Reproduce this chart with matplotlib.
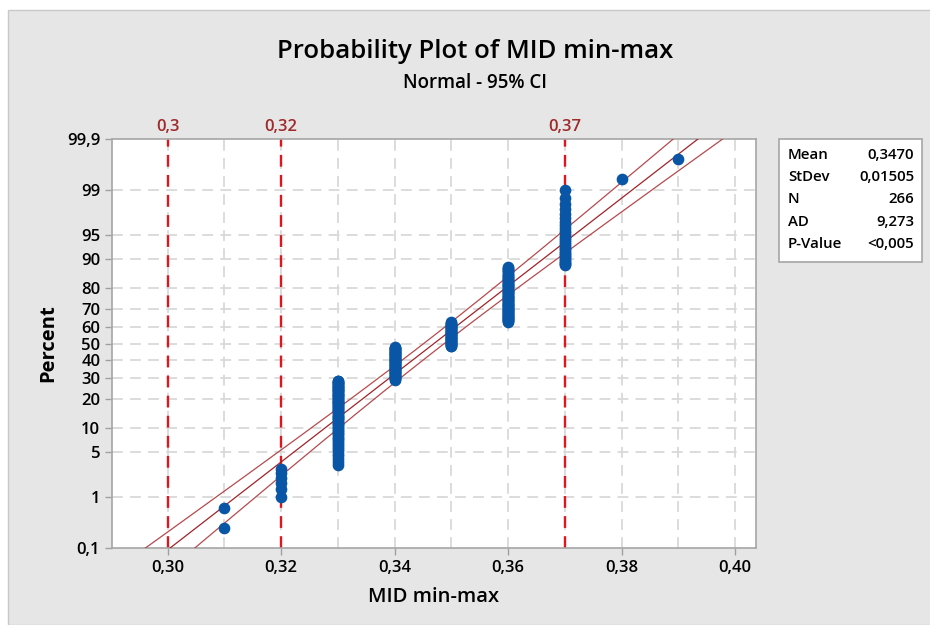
"""
Normal probability plot of MID min-max (Minitab style), 95% CI bands.
"""

from statistics import NormalDist
import numpy as np
import matplotlib
matplotlib.use("Agg")
import matplotlib.pyplot as plt
from matplotlib.patches import Rectangle

values = [0.31, 0.32, 0.33, 0.34, 0.35, 0.36, 0.37, 0.38, 0.39]
counts = [2, 6, 69, 51, 39, 67, 30, 1, 1]

pct_ticks = [0.1, 1, 5, 10, 20, 30, 40, 50, 60, 70, 80, 90, 95, 99, 99.9]
pct_labels = ['0,1', '1', '5', '10', '20', '30', '40', '50', '60', '70',
              '80', '90', '95', '99', '99,9']
x_ticks = [0.30, 0.32, 0.34, 0.36, 0.38, 0.40]
ref_lines = [0.30, 0.32, 0.37]
ref_labels = ['0,3', '0,32', '0,37']
ad_value = '9,273'
p_value = '<0,005'

nd = NormalDist()
FONT = 'Open Sans'
plt.rcParams['font.family'] = [FONT, 'DejaVu Sans']


def comma(s):
    return s.replace('.', ',')


if (__name__ == "__main__"):

    data = np.repeat(values, counts)
    n = len(data)
    mean = data.mean()
    sd = data.std(ddof=1)

    # median ranks like Minitab
    ranks = np.arange(1, n + 1)
    probs = (ranks - 0.3) / (n + 0.4)
    z_pts = np.array([nd.inv_cdf(p) for p in probs])

    fig = plt.figure(figsize=(9.3, 6.25), dpi=100)
    fig.patch.set_facecolor('white')
    fig.patches.append(Rectangle((8 / 930, 0), 1, 615 / 625, transform=fig.transFigure,
                                 facecolor='#e6e6e6', edgecolor='#c8c8c8', lw=1.0, zorder=-10))

    ax = fig.add_axes([112 / 930, 1 - 548 / 625, (756 - 112) / 930, (548 - 139) / 625])
    ax.set_facecolor('white')

    z_lo, z_hi = nd.inv_cdf(0.001), nd.inv_cdf(0.999)

    # grid
    for xv in np.arange(0.30, 0.4001, 0.01):
        ax.axvline(xv, color='#d9d9d9', lw=1.3, dashes=(6, 4), zorder=1)
    for p in pct_ticks[1:-1]:
        ax.axhline(nd.inv_cdf(p / 100), color='#d9d9d9', lw=1.3, dashes=(6, 4), zorder=1)

    # fitted line and 95% CI
    zz = np.linspace(-4, 4, 400)
    half = 1.96 * sd * np.sqrt(1 / n + zz ** 2 / (2 * n))
    fit = mean + zz * sd
    ax.plot(fit, zz, color='#a02428', lw=0.9, zorder=3)
    ax.plot(fit - half, zz, color='#b64a4e', lw=0.9, zorder=3)
    ax.plot(fit + half, zz, color='#b64a4e', lw=0.9, zorder=3)

    # reference lines
    for xv, lab in zip(ref_lines, ref_labels):
        ax.axvline(xv, color='#e0161c', lw=1.7, dashes=(5, 3.5), zorder=2)
        ax.text(xv, z_hi + 0.06, lab, color='#9e2a2b', fontsize=12,
                fontweight='semibold', ha='center', va='bottom', clip_on=False)

    ax.plot(data, z_pts, 'o', color='#0a56a6', ms=7.4, mec='#0a56a6', zorder=4)

    ax.set_xlim(0.2902, 0.4037)
    ax.set_ylim(z_lo, z_hi)
    ax.set_xticks(x_ticks)
    ax.set_xticklabels([comma('%.2f' % t) for t in x_ticks])
    ax.set_yticks([nd.inv_cdf(p / 100) for p in pct_ticks])
    ax.set_yticklabels(pct_labels)
    ax.tick_params(axis='both', labelsize=12, color='#a0a0a0', length=5, width=1)
    for lab in ax.get_xticklabels() + ax.get_yticklabels():
        lab.set_fontweight('semibold')
    for sp in ax.spines.values():
        sp.set_color('#a6a6a6')
        sp.set_linewidth(1.2)

    ax.set_xlabel('MID min-max', fontsize=14.5, fontweight='semibold', labelpad=8)
    ax.set_ylabel('Percent', fontsize=14.5, fontweight='bold', labelpad=6)

    fig.text(475 / 930, 1 - 52 / 625, 'Probability Plot of MID min-max',
             fontsize=18.5, fontweight='semibold', ha='center', va='center')
    fig.text(475 / 930, 1 - 83 / 625, 'Normal - 95% CI',
             fontsize=13.5, fontweight='semibold', ha='center', va='center')

    # stats box
    fig.patches.append(Rectangle((779 / 930, 1 - 262 / 625), 143 / 930, 123 / 625,
                                 transform=fig.transFigure, facecolor='white',
                                 edgecolor='#a6a6a6', lw=1.2, zorder=5))
    rows = [('Mean', comma('%.4f' % mean)),
            ('StDev', comma('%.5f' % sd)),
            ('N', str(n)),
            ('AD', ad_value),
            ('P-Value', p_value)]
    for k, (name, val) in enumerate(rows):
        y = 1 - (155 + k * 22.2) / 625
        fig.text(788 / 930, y, name, fontsize=10.8, fontweight='semibold', va='center', zorder=6)
        fig.text(914 / 930, y, val, fontsize=10.8, fontweight='semibold', va='center',
                 ha='right', zorder=6)

    plt.savefig('out.png', dpi=100)
